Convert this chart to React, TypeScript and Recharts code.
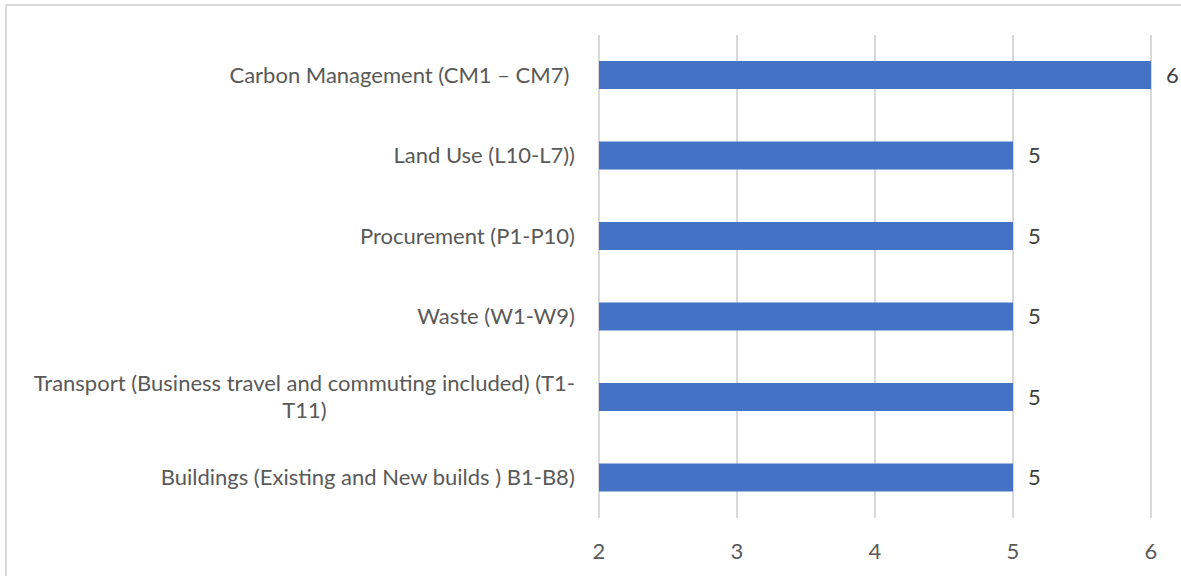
import React from "react";
import { BarChart, Bar, XAxis, YAxis, CartesianGrid, LabelList } from "recharts";

const categories = [
  "Carbon Management (CM1 \u2013 CM7) ",
  "Land Use (L10-L7))",
  "Procurement (P1-P10)",
  "Waste (W1-W9)",
  "Transport (Business travel and commuting included) (T1-T11)",
  "Buildings (Existing and New builds ) B1-B8)",
];
const scores = [6, 5, 5, 5, 5, 5];
const xTicks = [2, 3, 4, 5, 6];

const FONT = "Lato";
const FONT_SIZE = 22;
const MAX_LABEL_WIDTH = 565;

const data = categories.map((name, i) => ({ name, value: scores[i] }));

let ctx: CanvasRenderingContext2D | null = null;
function measure(text: string) {
  if (!ctx) ctx = document.createElement("canvas").getContext("2d");
  if (!ctx) return text.length * FONT_SIZE * 0.5;
  ctx.font = `${FONT_SIZE}px ${FONT}`;
  return ctx.measureText(text).width;
}

// excel-style wrapping: break on spaces and after hyphens
function wrap(label: string) {
  const tokens = label.match(/[^\s-]+-?|\s+/g) ?? [label];
  const lines: string[] = [];
  let cur = "";
  for (const t of tokens) {
    const next = cur + t;
    if (cur.trim() && measure(next.trimEnd()) > MAX_LABEL_WIDTH) {
      lines.push(cur.trimEnd());
      cur = t.trimStart();
    } else {
      cur = next;
    }
  }
  if (cur.trim()) lines.push(cur.trimEnd());
  return lines;
}

function CategoryTick(props: any) {
  const { x, y, payload } = props;
  const lines = wrap(payload.value);
  const raw = payload.value as string;
  // keep trailing spaces in the width, like the source does
  const blockW =
    lines.length === 1 ? measure(raw) : Math.max(...lines.map(measure));
  const lineH = 27;
  const cx = x - blockW / 2;
  const y0 = y - ((lines.length - 1) * lineH) / 2;
  return (
    <g>
      {lines.map((l, i) => (
        <text
          key={i}
          x={cx}
          y={y0 + i * lineH}
          dy="0.35em"
          textAnchor="middle"
          fill="#595959"
          fontSize={FONT_SIZE}
          fontFamily={FONT}
          xmlSpace="preserve"
        >
          {lines.length === 1 ? raw : l}
        </text>
      ))}
    </g>
  );
}

export default function App() {
  return (
    <div
      style={{
        position: "absolute",
        left: 0,
        top: 0,
        width: 1181,
        height: 576,
        background: "#fff",
        fontFamily: FONT,
        overflow: "hidden",
      }}
    >
      <div
        style={{
          position: "absolute",
          left: 5,
          top: 4,
          width: 1200,
          height: 600,
          borderLeft: "2px solid #d9d9d9",
          borderTop: "2px solid #d9d9d9",
        }}
      />
      <div style={{ position: "absolute", left: 0, top: 0 }}>
        <BarChart
          width={1181}
          height={576}
          data={data}
          layout="vertical"
          margin={{ top: 35, right: 30, bottom: 0, left: 0 }}
        >
          <CartesianGrid horizontal={false} stroke="#d9d9d9" strokeWidth={2} />
          <XAxis
            type="number"
            domain={[2, 6]}
            ticks={xTicks}
            axisLine={false}
            tickLine={false}
            height={58}
            tickMargin={19}
            tick={{ fill: "#595959", fontSize: FONT_SIZE, fontFamily: FONT }}
          />
          <YAxis
            type="category"
            dataKey="name"
            width={599}
            axisLine={false}
            tickLine={false}
            tickSize={0}
            tickMargin={24}
            interval={0}
            tick={<CategoryTick />}
          />
          <Bar dataKey="value" fill="#4472c4" barSize={28} isAnimationActive={false}>
            <LabelList
              dataKey="value"
              position="right"
              offset={15}
              fill="#404040"
              fontSize={FONT_SIZE}
              fontFamily={FONT}
            />
          </Bar>
        </BarChart>
      </div>
    </div>
  );
}
